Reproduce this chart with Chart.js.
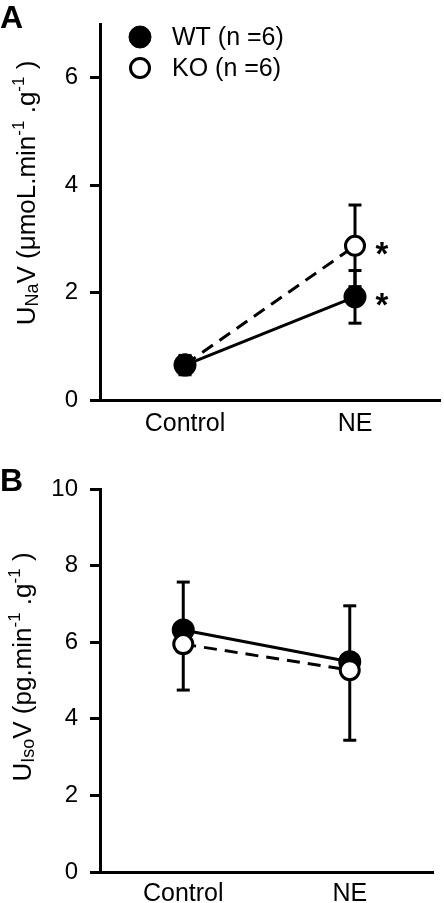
<!DOCTYPE html>
<html><head><meta charset="utf-8">
<script src="https://cdn.jsdelivr.net/npm/chart.js@4.4.0/dist/chart.umd.min.js"></script>
<style>
body{margin:0;background:#fff;width:444px;height:903px;overflow:hidden;position:relative}
canvas{position:absolute;left:0}
</style></head>
<body>
<canvas id="a" width="444" height="450" style="top:0"></canvas>
<canvas id="b" width="444" height="453" style="top:450px"></canvas>
<script>
// ---- data ----
const categories = ['Control', 'NE'];
const seriesNames = ['WT (n =6)', 'KO (n =6)'];
const yTicksA = [0, 2, 4, 6];
const yMaxA = 7;
const wtA = [0.65, 1.92];
const koA = [0.66, 2.87];
const wtSemA = [0.18, 0.49];
const koSemA = [0.15, 0.76];
const wtStarsA = ['', '*'];
const koStarsA = ['', '*'];
const yTicksB = [0, 2, 4, 6, 8, 10];
const yMaxB = 10;
const wtB = [6.32, 5.49];
const koB = [5.95, 5.27];
const wtSemB = [1.25, 1.46];
const koSemB = [1.20, 1.83];

const FONT = "'Liberation Sans', Arial, sans-serif";
Chart.defaults.font.family = FONT;
Chart.defaults.color = '#000';

const errorBars = {
  id: 'errorBars',
  beforeDatasetsDraw(chart) {
    const ctx = chart.ctx, ys = chart.scales.y;
    chart.data.datasets.forEach((ds, di) => {
      const meta = chart.getDatasetMeta(di);
      ds.data.forEach((v, i) => {
        const sem = ds.sem[i];
        if (!sem) return;
        const x = meta.data[i].x, y0 = ys.getPixelForValue(v);
        const ends = [];
        if (ds.errDir !== 'down') ends.push(ys.getPixelForValue(v + sem));
        if (ds.errDir !== 'up') ends.push(ys.getPixelForValue(v - sem));
        ctx.save();
        ctx.strokeStyle = '#000'; ctx.lineWidth = 3;
        ends.forEach(ye => {
          ctx.beginPath(); ctx.moveTo(x, y0); ctx.lineTo(x, ye); ctx.stroke();
          ctx.beginPath(); ctx.moveTo(x - 6.5, ye); ctx.lineTo(x + 6.5, ye); ctx.stroke();
        });
        ctx.restore();
      });
    });
  }
};

const annotations = {
  id: 'annotations',
  afterDraw(chart, args, opts) {
    const ctx = chart.ctx, ys = chart.scales.y;
    ctx.save();
    // stars
    chart.data.datasets.forEach((ds, di) => {
      if (!ds.stars) return;
      const meta = chart.getDatasetMeta(di);
      ds.stars.forEach((s, i) => {
        if (!s) return;
        const x = meta.data[i].x + 27, y = ys.getPixelForValue(ds.data[i]);
        ctx.font = 'bold 33px ' + FONT;
        ctx.textAlign = 'center'; ctx.textBaseline = 'alphabetic';
        ctx.fillStyle = '#000';
        ctx.fillText(s, x, y + 0.57 * 33);
      });
    });
    // panel letter
    ctx.font = 'bold 32px ' + FONT;
    ctx.textAlign = 'left'; ctx.textBaseline = 'alphabetic';
    ctx.fillText(opts.letter, 0, opts.letterY);
    // y title with sub/superscripts
    const segs = opts.title;
    let total = 0;
    segs.forEach(sg => { ctx.font = sg.s + 'px ' + FONT; sg.w = ctx.measureText(sg.t).width; total += sg.w; });
    ctx.translate(opts.titleX, opts.titleY);
    ctx.rotate(-Math.PI / 2);
    let px = -total / 2;
    segs.forEach(sg => {
      ctx.font = sg.s + 'px ' + FONT;
      ctx.fillText(sg.t, px, sg.dy);
      px += sg.w;
    });
    ctx.restore();
    // legend
    if (opts.legend) {
      ctx.save();
      chart.data.datasets.slice().sort((a, b) => a.legendIdx - b.legendIdx).forEach((ds, k) => {
        const cy = 37 + k * 31;
        ctx.beginPath(); ctx.arc(140, cy, ds.filled ? 11 : 9.5, 0, Math.PI * 2);
        ctx.fillStyle = ds.pointBackgroundColor; ctx.fill();
        ctx.lineWidth = ds.filled ? 1 : 3; ctx.strokeStyle = '#000'; ctx.stroke();
        ctx.fillStyle = '#000';
        ctx.font = '25px ' + FONT; ctx.textAlign = 'left'; ctx.textBaseline = 'middle';
        ctx.fillText(ds.label, 172, cy + 1);
      });
      ctx.restore();
    }
  }
};

function makeDatasets(wt, ko, wtSem, koSem, wtDir, koDir, wtStars, koStars, wtOnTop) {
  return [
    { label: seriesNames[0], data: wt, sem: wtSem, errDir: wtDir, stars: wtStars, legendIdx: 0, filled: true,
      borderColor: '#000', borderWidth: 3, pointRadius: 10.5, pointBorderWidth: 2,
      pointBackgroundColor: '#000', pointBorderColor: '#000', order: wtOnTop ? 0 : 1 },
    { label: seriesNames[1], data: ko, sem: koSem, errDir: koDir, stars: koStars, legendIdx: 1, filled: false,
      borderColor: '#000', borderWidth: 3, borderDash: [13, 8], pointRadius: 9.5, pointBorderWidth: 3,
      pointBackgroundColor: '#fff', pointBorderColor: '#000', order: wtOnTop ? 1 : 0 }
  ];
}

function makeOptions(yMax, ticks, pad, xHeight, xPad, annOpts) {
  return {
    responsive: false, animation: false, devicePixelRatio: 1,
    layout: { padding: pad, autoPadding: false },
    plugins: { legend: { display: false }, tooltip: { enabled: false }, annotations: annOpts },
    scales: {
      x: {
        type: 'category', offset: true,
        grid: { display: false, drawTicks: false },
        border: { display: true, width: 3, color: '#000' },
        ticks: { font: { size: 25 }, color: '#000', padding: xPad, maxRotation: 0 },
        afterFit: s => { s.height = xHeight; s.paddingLeft = 0; s.paddingRight = 0; }
      },
      y: {
        min: 0, max: yMax,
        grid: { drawOnChartArea: false, drawTicks: true, tickLength: 10, lineWidth: 3, color: '#000' },
        border: { display: true, width: 3, color: '#000' },
        ticks: { font: { size: 24 }, color: '#000', padding: 12 },
        afterBuildTicks: s => { s.ticks = ticks.map(v => ({ value: v })); },
        afterFit: s => { s.width = 100; s.paddingTop = 0; s.paddingBottom = 0; }
      }
    }
  };
}

new Chart(document.getElementById('a'), {
  type: 'line',
  data: { labels: categories, datasets: makeDatasets(wtA, koA, wtSemA, koSemA, 'both', 'both', wtStarsA, koStarsA, true) },
  options: makeOptions(yMaxA, yTicksA, { top: 24, right: 4, left: 0, bottom: 0 }, 50, 9, {
    letter: 'A', letterY: 28, legend: true, titleX: 35, titleY: 193,
    title: [
      { t: 'U', s: 26, dy: 0 }, { t: 'Na', s: 18, dy: 3 }, { t: 'V (\u03bcmoL.min', s: 26, dy: 0 },
      { t: '-1', s: 17, dy: -11 }, { t: ' .g', s: 26, dy: 0 }, { t: '-1', s: 17, dy: -11 }, { t: ' )', s: 26, dy: 0 }
    ]
  }),
  plugins: [errorBars, annotations]
});

new Chart(document.getElementById('b'), {
  type: 'line',
  data: { labels: categories, datasets: makeDatasets(wtB, koB, wtSemB, koSemB, 'up', 'down', null, null, false) },
  options: makeOptions(yMaxB, yTicksB, { top: 39, right: 11, left: 0, bottom: 0 }, 31, 7, {
    letter: 'B', letterY: 41, legend: false, titleX: 31, titleY: 217,
    title: [
      { t: 'U', s: 26, dy: 0 }, { t: 'Iso', s: 18, dy: 3 }, { t: 'V (pg.min', s: 26, dy: 0 },
      { t: '-1', s: 17, dy: -11 }, { t: ' .g', s: 26, dy: 0 }, { t: '-1', s: 17, dy: -11 }, { t: ' )', s: 26, dy: 0 }
    ]
  }),
  plugins: [errorBars, annotations]
});
</script>
</body></html>
